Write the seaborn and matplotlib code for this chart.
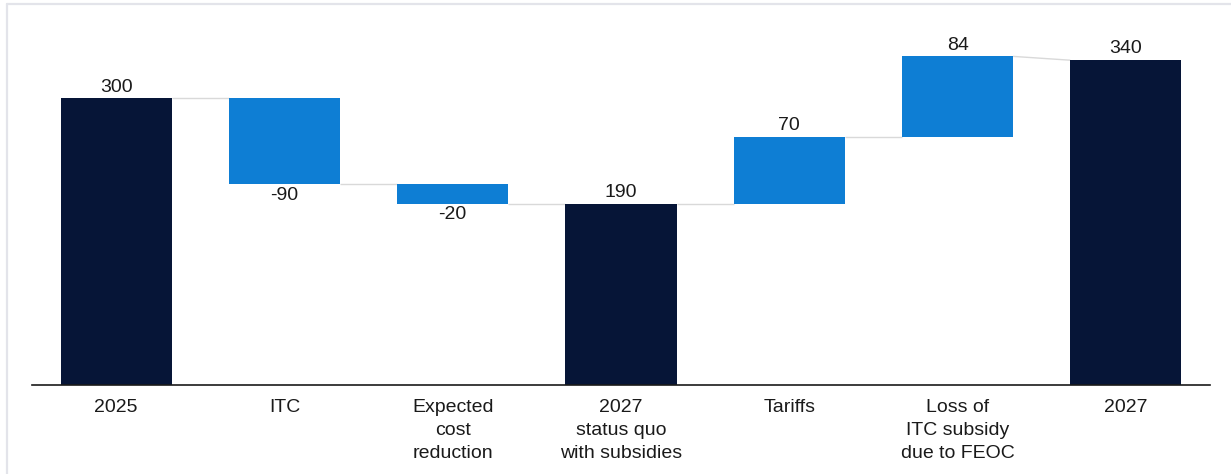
import matplotlib
matplotlib.use("Agg")
import matplotlib.pyplot as plt
from matplotlib.lines import Line2D
import seaborn as sns
import numpy as np

categories = ["2025", "ITC", "Expected\ncost\nreduction", "2027\nstatus quo\nwith subsidies",
              "Tariffs", "Loss of\nITC subsidy\ndue to FEOC", "2027"]
values = [300, -90, -20, 190, 70, 84, 340]
labels = ["300", "-90", "-20", "190", "70", "84", "340"]
is_total = [True, False, False, True, False, False, True]

NAVY = "#061537"
BLUE = "#0E7ED4"

sns.set_theme(style="white")
plt.rcParams["font.family"] = ["Liberation Sans", "DejaVu Sans"]

# compute bottoms / heights / levels
bottoms, heights, starts, ends = [], [], [], []
running = 0
for v, t in zip(values, is_total):
    if t:
        bottoms.append(0); heights.append(v)
        starts.append(v); ends.append(v)
        running = v
    else:
        new = running + v
        bottoms.append(min(running, new)); heights.append(abs(v))
        starts.append(running); ends.append(new)
        running = new

colors = [NAVY if t else BLUE for t in is_total]

fig = plt.figure(figsize=(12.31, 4.74), dpi=100)
W, H = 1231, 474
ax = fig.add_axes([32 / W, (H - 385) / H, (1210 - 32) / W, (385 - 22) / H])

sns.barplot(x=categories, y=heights, hue=categories, palette=colors, legend=False,
            width=0.66, ax=ax, saturation=1, linewidth=0, zorder=2)

# position patches at their waterfall bottoms
for p in ax.patches:
    cx = p.get_x() + p.get_width() / 2
    i = int(round(cx))
    p.set_y(bottoms[i])

bw = 0.66
for i in range(len(values) - 1):
    ax.plot([i + bw / 2, i + 1 - bw / 2], [ends[i], starts[i + 1]],
            color="#d9d9d9", lw=1, zorder=1, solid_capstyle="butt")

for i, (v, lab) in enumerate(zip(values, labels)):
    top = bottoms[i] + heights[i]
    if v >= 0:
        ax.annotate(lab, (i, top), xytext=(0, 2), textcoords="offset points",
                    ha="center", va="bottom", fontsize=14, color="#1a1a1a")
    else:
        ax.annotate(lab, (i, bottoms[i]), xytext=(0, -2), textcoords="offset points",
                    ha="center", va="top", fontsize=14, color="#1a1a1a")

ax.set_xlim(-0.5, len(values) - 0.5)
ax.set_ylim(0, 380)
ax.set_yticks([])
ax.set_xlabel("")
ax.set_ylabel("")
ax.tick_params(axis="x", length=0, pad=10, labelsize=14, labelcolor="#1a1a1a")
for t in ax.get_xticklabels():
    t.set_linespacing(1.45)
for s in ["top", "right", "left"]:
    ax.spines[s].set_visible(False)
ax.spines["bottom"].set_color("#1a1a1a")
ax.spines["bottom"].set_linewidth(1.2)

# light outer frame lines (left and top)
fig.add_artist(Line2D([6.5 / W, 6.5 / W], [0, (H - 3.5) / H], transform=fig.transFigure,
                      color="#e3e4ea", lw=1.6))
fig.add_artist(Line2D([6.5 / W, 1], [(H - 3.5) / H, (H - 3.5) / H], transform=fig.transFigure,
                      color="#e3e4ea", lw=1.6))

fig.savefig("out.png", dpi=100)
